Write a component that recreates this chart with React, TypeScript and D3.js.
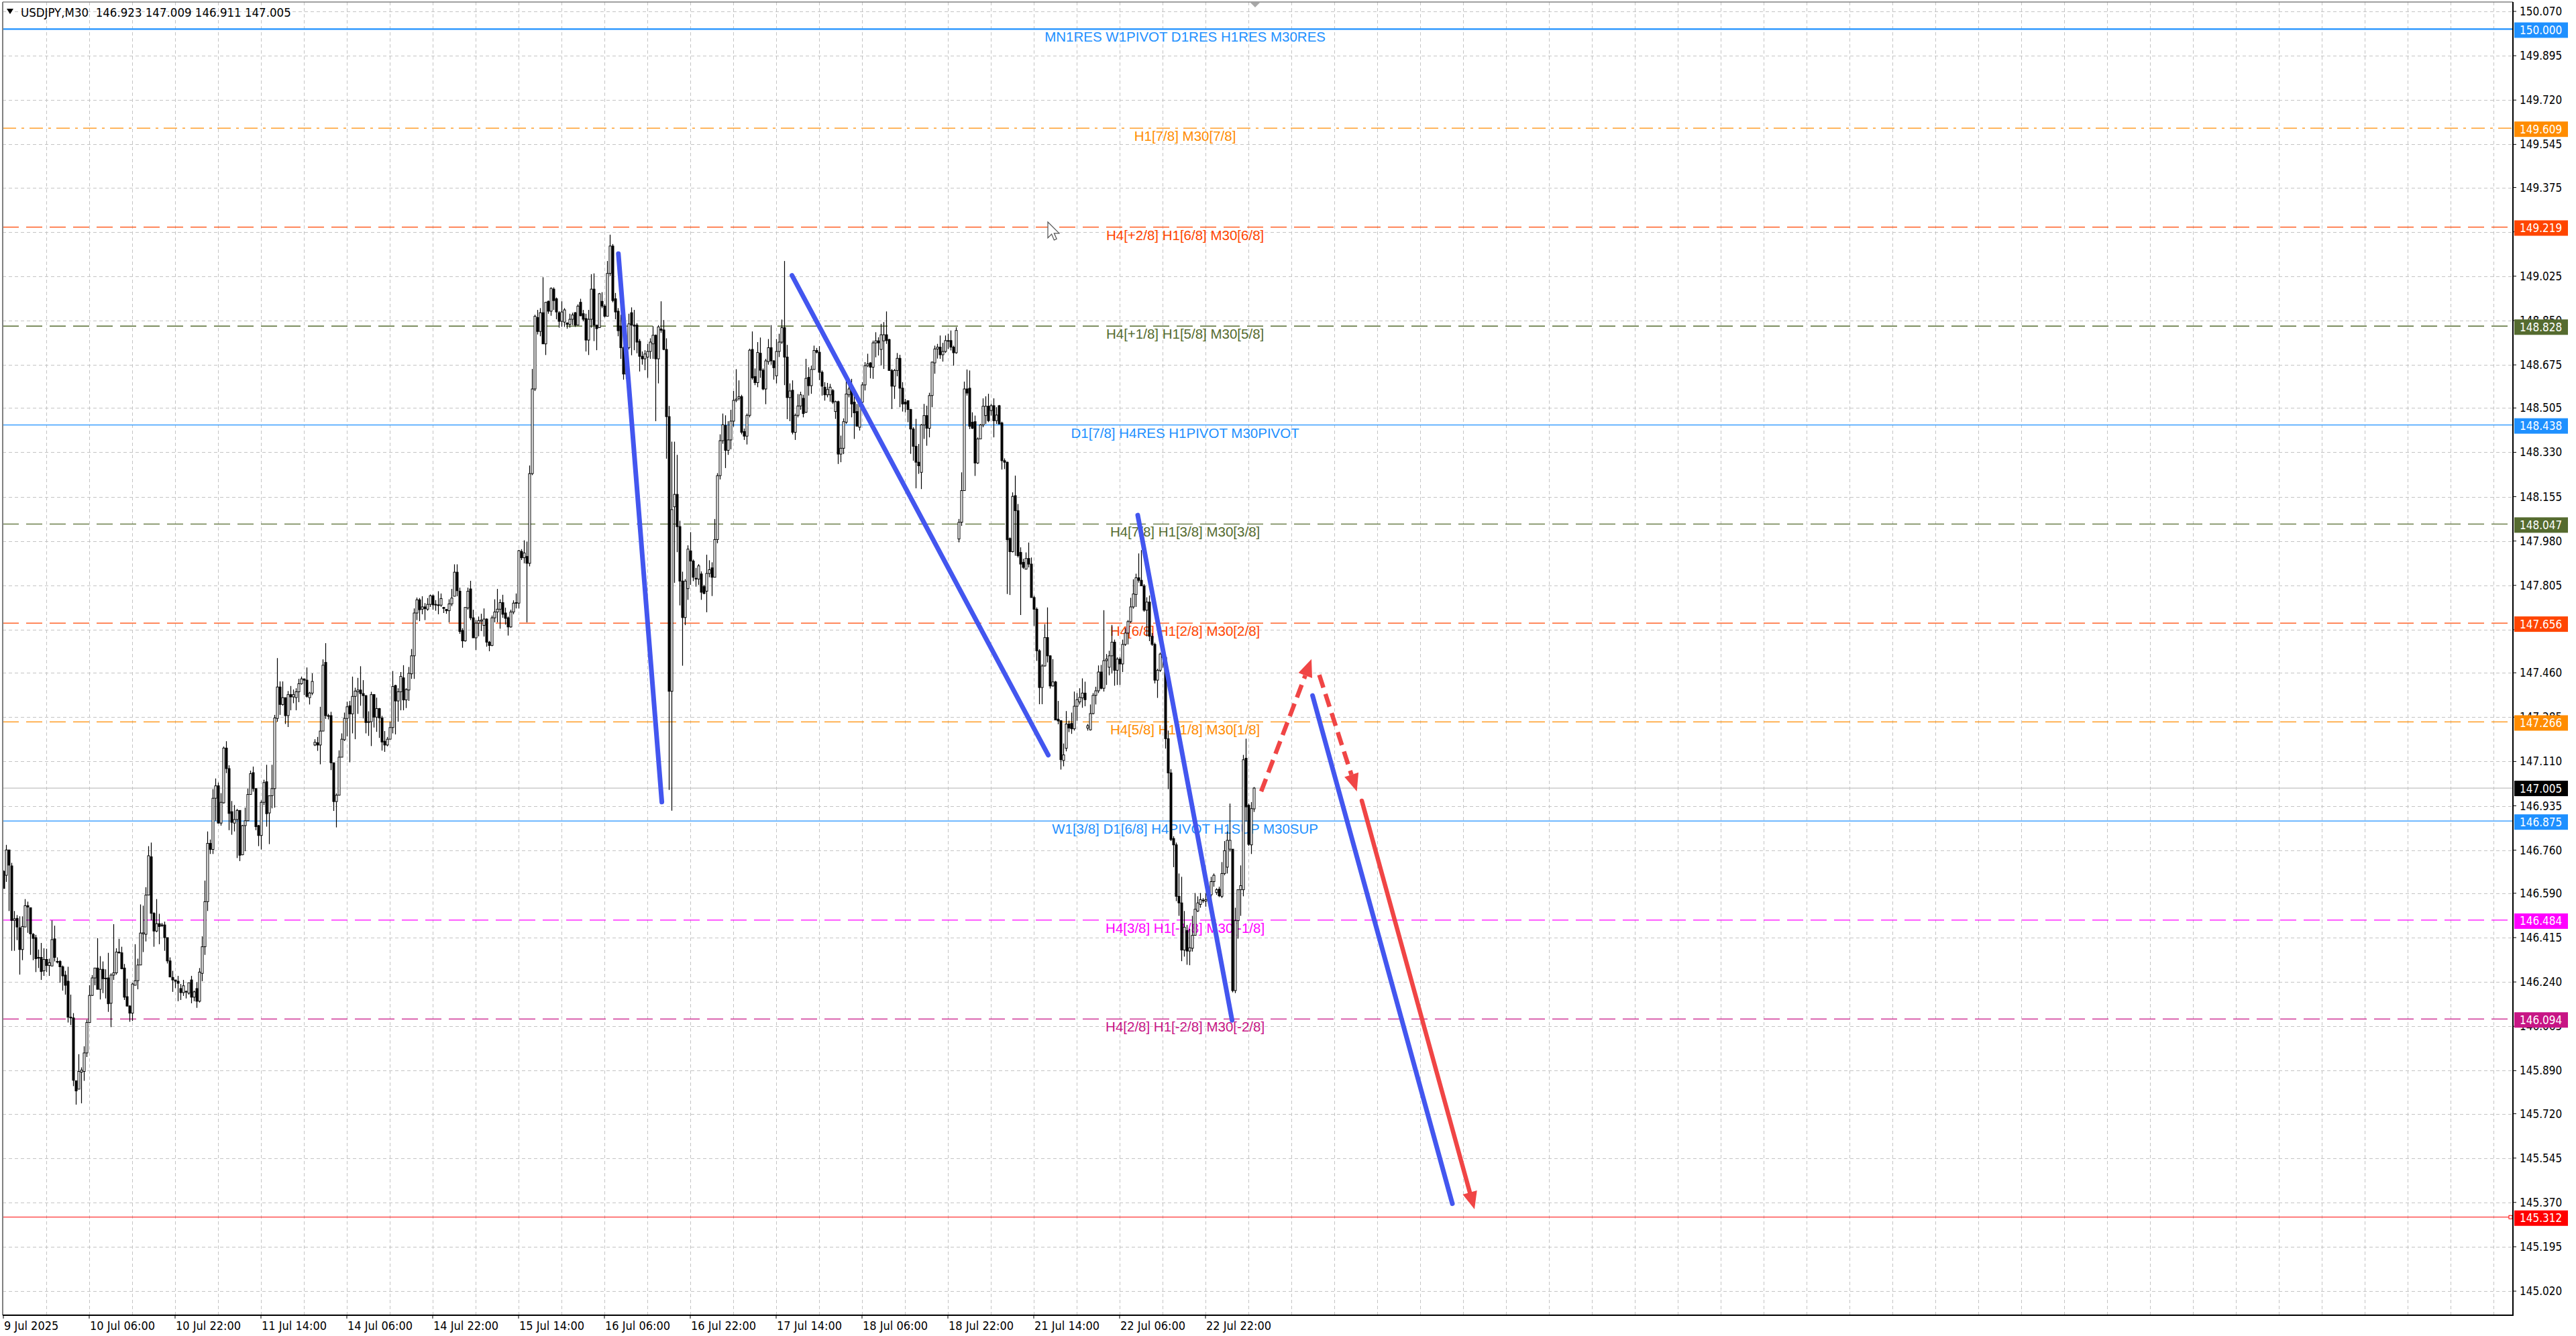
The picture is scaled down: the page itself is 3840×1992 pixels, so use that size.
import React from 'react';
import * as d3 from 'd3';

type Bar = [number, number, number, number]; // open, high, low, close

// M30 bars, 9 Jul 14:00 - 11 Jul 16:30
const barsA: Bar[] = [
  [146.677,146.680,146.609,146.609],[146.661,146.781,146.635,146.761],[146.761,146.761,146.520,146.701],[146.698,146.710,146.363,146.483],
  [146.483,146.520,146.363,146.489],[146.491,146.504,146.405,146.457],[146.454,146.499,146.269,146.368],[146.368,146.499,146.326,146.459],
  [146.457,146.567,146.457,146.541],[146.541,146.557,146.434,146.536],[146.533,146.533,146.347,146.430],[146.428,146.433,146.326,146.412],
  [146.415,146.426,146.279,146.332],[146.337,146.368,146.295,146.334],[146.337,146.394,146.248,146.281],[146.284,146.373,146.264,146.329],
  [146.329,146.371,146.279,146.305],[146.305,146.332,146.264,146.316],[146.303,146.483,146.303,146.407],[146.410,146.462,146.321,146.337],
  [146.321,146.337,146.313,146.321],[146.321,146.326,146.237,146.300],[146.300,146.305,146.206,146.264],[146.267,146.284,146.190,146.227],
  [146.243,146.300,146.080,146.101],[146.101,146.190,146.070,146.098],[146.098,146.117,145.829,145.852],[145.850,145.850,145.756,145.810],
  [145.817,145.955,145.817,145.887],[145.884,145.903,145.761,145.892],[145.887,145.986,145.850,145.960],[145.960,146.091,145.944,146.080],
  [146.080,146.227,146.080,146.187],[146.187,146.267,146.185,146.256],[146.256,146.295,146.227,146.295],[146.295,146.413,146.211,146.211],
  [146.211,146.342,146.171,146.290],[146.290,146.321,146.196,146.253],[146.253,146.290,146.175,146.255],[146.256,146.355,146.122,146.154],
  [146.156,146.274,146.062,146.267],[146.267,146.468,146.248,146.276],[146.276,146.373,146.269,146.358],[146.358,146.410,146.352,146.355],
  [146.355,146.379,146.290,146.292],[146.295,146.311,146.169,146.180],[146.182,146.253,146.143,146.145],[146.145,146.148,146.083,146.117],
  [146.117,146.237,146.086,146.232],[146.227,146.389,146.227,146.245],[146.245,146.332,146.211,146.307],[146.307,146.546,146.307,146.433],
  [146.430,146.541,146.358,146.434],[146.428,146.614,146.400,146.583],[146.583,146.776,146.583,146.738],[146.734,146.790,146.483,146.511],
  [146.511,146.515,146.379,146.441],[146.441,146.567,146.436,146.470],[146.470,146.509,146.389,146.459],[146.465,146.473,146.457,146.465],
  [146.465,146.478,146.363,146.415],[146.415,146.415,146.313,146.323],[146.323,146.337,146.258,146.260],[146.258,146.284,146.201,146.248],
  [146.248,146.248,146.216,146.243],[146.243,146.264,146.164,146.235],[146.214,146.232,146.169,146.198],[146.198,146.248,146.185,146.225],
  [146.203,146.206,146.175,146.201],[146.196,146.237,146.190,146.237],[146.248,146.264,146.156,146.180],[146.180,146.206,146.164,146.201],
  [146.214,146.239,146.138,146.164],[146.164,146.295,146.159,146.279],[146.274,146.420,146.243,146.379],[146.379,146.640,146.347,146.557],
  [146.557,146.834,146.520,146.787],[146.787,146.802,146.745,146.763],[146.763,147.001,146.745,146.965],[146.965,147.043,146.876,147.014],
  [147.014,147.027,146.865,146.867],[146.867,146.985,146.857,146.949],[146.947,147.169,146.944,147.163],[147.163,147.190,147.064,147.082],
  [147.082,147.095,146.839,146.905],[146.912,146.954,146.821,146.870],[146.867,146.938,146.834,146.881],[146.881,146.923,146.729,146.917],
  [146.917,146.917,146.717,146.740],[146.742,146.860,146.740,146.857],[146.857,146.928,146.756,146.876],[146.876,147.003,146.876,146.980],
  [146.980,147.074,146.980,147.062],[147.066,147.090,146.991,147.003],[147.003,147.003,146.839,146.853],[146.857,146.860,146.776,146.818],
  [146.818,146.957,146.763,146.949],[146.949,147.038,146.938,147.027],[147.030,147.097,146.853,146.904],[146.907,146.975,146.784,146.975],
  [146.975,147.097,146.925,147.003],[147.003,147.294,146.928,147.282],
];

// 11 Jul 17:00 - 15 Jul 15:30
const barsB: Bar[] = [
  [147.280,147.518,147.267,147.404],[147.404,147.426,147.294,147.335],[147.335,147.426,147.330,147.362],[147.362,147.362,147.258,147.291],
  [147.291,147.388,147.246,147.374],[147.374,147.408,147.312,147.365],[147.365,147.394,147.340,147.374],[147.362,147.399,147.312,147.385],
  [147.385,147.436,147.344,147.417],[147.417,147.445,147.413,147.436],[147.436,147.436,147.372,147.431],[147.431,147.481,147.362,147.367],
  [147.362,147.385,147.335,147.380],[147.380,147.458,147.372,147.426],[147.175,147.198,147.171,147.186],[147.184,147.207,147.152,147.175],
  [147.175,147.326,147.099,147.230],[147.230,147.513,147.230,147.490],[147.501,147.577,147.278,147.291],[147.291,147.298,147.276,147.291],
  [147.291,147.306,147.076,147.105],[147.105,147.105,146.915,146.952],[146.952,146.984,146.850,146.977],[146.977,147.154,146.977,147.127],
  [147.127,147.221,147.127,147.198],[147.196,147.303,147.191,147.280],[147.280,147.346,147.209,147.326],[147.330,147.349,147.107,147.298],
  [147.298,147.445,147.221,147.367],[147.367,147.401,147.198,147.388],[147.385,147.440,147.298,147.392],[147.392,147.486,147.330,147.378],
  [147.378,147.431,147.280,147.370],[147.370,147.372,147.221,147.264],[147.264,147.308,147.211,147.267],[147.267,147.385,147.171,147.374],
  [147.374,147.376,147.244,147.285],[147.285,147.362,147.227,147.319],[147.319,147.321,147.203,147.282],[147.282,147.290,147.153,147.187],
  [147.190,147.230,147.148,147.175],[147.175,147.207,147.170,147.198],[147.198,147.267,147.198,147.244],[147.244,147.467,147.221,147.406],
  [147.410,147.413,147.217,147.349],[147.349,147.399,147.267,147.385],[147.385,147.463,147.312,147.446],[147.440,147.490,147.312,147.353],
  [147.353,147.399,147.321,147.394],[147.392,147.483,147.349,147.458],[147.456,147.554,147.436,147.527],[147.527,147.714,147.436,147.696],
  [147.696,147.757,147.668,147.748],[147.748,147.755,147.664,147.709],[147.711,147.762,147.691,147.720],[147.720,147.735,147.668,147.713],
  [147.711,147.755,147.705,147.730],[147.730,147.769,147.720,147.764],[147.764,147.769,147.709,147.728],[147.728,147.747,147.705,147.730],
  [147.728,147.782,147.691,147.727],[147.727,147.773,147.720,147.753],[147.718,147.720,147.696,147.714],[147.710,147.712,147.693,147.705],
  [147.705,147.750,147.659,147.732],[147.732,147.791,147.723,147.755],[147.762,147.888,147.762,147.857],[147.857,147.888,147.762,147.784],
  [147.782,147.796,147.614,147.623],[147.627,147.636,147.559,147.586],[147.586,147.718,147.583,147.718],[147.716,147.796,147.709,147.782],
  [147.791,147.823,147.668,147.677],[147.677,147.709,147.598,147.598],[147.598,147.668,147.550,147.656],[147.656,147.682,147.604,147.666],
  [147.664,147.693,147.625,147.668],[147.647,147.714,147.603,147.672],[147.672,147.675,147.563,147.581],[147.581,147.586,147.545,147.568],
  [147.568,147.686,147.565,147.677],[147.677,147.750,147.659,147.700],[147.700,147.791,147.659,147.711],[147.711,147.750,147.634,147.737],
  [147.737,147.768,147.677,147.691],[147.696,147.717,147.650,147.675],[147.677,147.682,147.607,147.641],[147.641,147.709,147.638,147.700],
  [147.700,147.746,147.691,147.735],[147.735,147.773,147.714,147.737],[147.735,147.945,147.714,147.942],[147.939,147.948,147.905,147.914],
  [147.914,147.983,147.892,147.933],[147.919,147.978,147.659,147.892],
];

// 15 Jul 16:00 - 17 Jul 19:00
const barsC: Bar[] = [
  [147.892,148.278,147.880,148.246],[148.246,148.659,148.240,148.580],[148.580,148.873,148.572,148.867],[148.862,148.892,148.795,148.807],
  [148.807,148.899,148.788,148.881],[148.881,149.021,148.758,148.758],[148.758,148.922,148.714,148.922],[148.926,148.929,148.877,148.887],
  [148.887,148.981,148.869,148.977],[148.974,148.981,148.892,148.929],[148.936,148.941,148.855,148.884],[148.881,148.887,148.822,148.847],
  [148.847,148.926,148.825,148.884],[148.844,148.899,148.825,148.892],[148.840,148.843,148.818,148.835],[148.835,148.877,148.822,148.855],
  [148.855,148.881,148.832,148.872],[148.881,148.884,148.825,148.832],[148.832,148.914,148.832,148.907],[148.922,148.936,148.867,148.869],
  [148.877,148.892,148.847,148.855],[148.858,148.877,148.728,148.773],[148.773,148.892,148.714,148.855],[148.855,149.033,148.822,148.974],
  [148.974,149.036,148.769,148.832],[148.832,148.832,148.733,148.818],[148.822,148.959,148.822,148.956],[148.926,148.962,148.899,148.907],
  [148.907,148.914,148.862,148.867],[148.867,149.085,148.867,149.036],[149.036,149.189,149.026,149.144],[149.144,149.152,148.922,148.929],
  [148.936,148.959,148.855,148.884],[148.887,148.899,148.788,148.810],[148.828,148.873,148.699,148.743],[148.743,148.748,148.617,148.639],
  [148.639,148.770,148.620,148.743],[148.743,148.877,148.736,148.837],[148.881,148.902,148.713,148.832],[148.832,148.892,148.733,148.828],
  [148.832,148.840,148.721,148.765],[148.768,148.777,148.649,148.709],[148.709,148.728,148.676,148.699],[148.699,148.733,148.654,148.718],
  [148.706,148.758,148.624,148.728],[148.728,148.780,148.699,148.765],[148.758,148.828,148.699,148.792],[148.792,148.795,148.453,148.699],
  [148.699,148.832,148.602,148.825],[148.817,148.926,148.802,148.812],[148.813,148.852,148.733,148.736],[148.736,148.780,148.305,148.471],
  [148.471,148.513,146.998,147.387],[147.387,148.372,146.916,148.104],[148.115,148.372,147.815,148.164],[148.164,148.320,147.936,148.037],
  [148.037,148.060,147.726,147.822],[147.822,147.859,147.488,147.678],[147.678,147.830,147.648,147.822],[147.792,147.963,147.748,147.948],
  [147.941,148.015,147.807,147.901],[147.901,147.907,147.822,147.837],[147.833,147.874,147.800,147.830],[147.830,147.889,147.807,147.882],
  [147.850,147.860,147.748,147.778],[147.800,147.807,147.770,147.773],[147.782,147.926,147.699,147.852],[147.852,147.904,147.837,147.867],
  [147.874,147.896,147.763,147.837],[147.837,148.067,147.837,147.986],[147.986,148.248,147.971,148.238],[148.238,148.401,148.223,148.376],
  [148.376,148.483,148.364,148.439],[148.436,148.476,148.268,148.338],[148.338,148.453,148.320,148.379],[148.379,148.498,148.342,148.453],
  [148.453,148.572,148.431,148.535],[148.535,148.658,148.528,148.540],[148.543,148.614,148.535,148.550],[148.550,148.557,148.401,148.409],
  [148.412,148.424,148.379,148.394],[148.394,148.483,148.361,148.476],[148.476,148.739,148.468,148.733],[148.736,148.807,148.617,148.624],
  [148.629,148.661,148.595,148.605],[148.605,148.765,148.587,148.724],[148.721,148.783,148.624,148.654],[148.654,148.661,148.575,148.580],
  [148.580,148.699,148.520,148.691],[148.688,148.777,148.676,148.743],[148.743,148.832,148.676,148.691],[148.691,148.694,148.617,148.664],
  [148.632,148.777,148.602,148.728],[148.728,148.798,148.706,148.765],[148.765,148.854,148.758,148.822],[148.822,149.085,148.595,148.706],
  [148.706,148.754,148.461,148.546],[148.546,148.602,148.453,148.572],[148.575,148.614,148.401,148.409],[148.409,148.483,148.379,148.476],
  [148.476,148.560,148.468,148.513],[148.513,148.569,148.498,148.557],[148.543,148.557,148.468,148.483],
];

// 17 Jul 19:30 - 21 Jul 18:30
const barsD: Bar[] = [
  [148.488,148.699,148.486,148.622],[148.626,148.666,148.554,148.593],[148.593,148.672,148.561,148.657],[148.657,148.751,148.657,148.732],
  [148.732,148.742,148.720,148.725],[148.725,148.749,148.615,148.646],[148.646,148.653,148.554,148.591],[148.587,148.607,148.534,148.557],
  [148.557,148.604,148.547,148.578],[148.557,148.600,148.530,148.587],[148.574,148.580,148.521,148.528],[148.491,148.534,148.462,148.530],
  [148.530,148.534,148.284,148.323],[148.323,148.396,148.291,148.346],[148.346,148.464,148.323,148.451],[148.449,148.613,148.442,148.560],
  [148.557,148.620,148.547,148.580],[148.591,148.620,148.468,148.521],[148.528,148.554,148.383,148.486],[148.491,148.521,148.432,148.433],
  [148.429,148.541,148.416,148.528],[148.528,148.607,148.491,148.596],[148.596,148.686,148.574,148.672],[148.672,148.719,148.666,148.679],
  [148.683,148.686,148.622,148.666],[148.666,148.771,148.620,148.762],[148.762,148.804,148.705,148.770],[148.770,148.784,148.712,148.762],
  [148.736,148.837,148.673,148.794],[148.770,148.844,148.659,148.794],[148.794,148.886,148.758,148.771],[148.775,148.778,148.653,148.653],
  [148.653,148.659,148.501,148.591],[148.591,148.659,148.541,148.653],[148.653,148.722,148.630,148.701],[148.701,148.715,148.508,148.583],
  [148.583,148.607,148.491,148.521],[148.528,148.541,148.488,148.521],[148.534,148.534,148.449,148.499],[148.499,148.501,148.324,148.422],
  [148.422,148.429,148.297,148.354],[148.354,148.462,148.188,148.291],[148.291,148.363,148.245,148.277],[148.251,148.442,148.185,148.438],
  [148.438,148.521,148.383,148.475],[148.475,148.514,148.356,148.425],[148.425,148.565,148.389,148.554],[148.554,148.688,148.508,148.686],
  [148.683,148.751,148.640,148.738],[148.738,148.758,148.700,148.745],[148.745,148.791,148.699,148.715],[148.715,148.762,148.688,148.728],
  [148.728,148.791,148.722,148.771],[148.771,148.798,148.738,148.771],[148.771,148.811,148.732,148.745],[148.745,148.751,148.672,148.723],
  [148.723,148.824,148.719,148.811],[147.988,148.067,147.975,148.054],[148.054,148.251,148.040,148.179],[148.179,148.609,148.179,148.580],
  [148.580,148.657,148.554,148.564],[148.583,148.653,148.422,148.433],[148.449,148.488,148.422,148.425],[148.451,148.475,148.237,148.288],
  [148.288,148.389,148.284,148.383],[148.383,148.442,148.383,148.438],[148.438,148.543,148.429,148.512],[148.475,148.551,148.442,148.512],
  [148.512,148.561,148.449,148.455],[148.495,148.521,148.475,148.514],[148.514,148.543,148.389,148.455],[148.455,148.508,148.442,148.477],
  [148.514,148.517,148.442,148.442],[148.446,148.451,148.262,148.297],[148.297,148.306,148.264,148.291],[148.291,148.293,147.771,147.985],
  [147.990,147.994,147.767,147.938],[147.938,148.172,147.935,148.156],[148.159,148.238,147.922,148.100],[148.100,148.126,147.915,147.922],
  [147.935,147.955,147.688,147.889],[147.896,147.910,147.870,147.876],[147.869,147.935,147.869,147.911],[147.911,147.974,147.876,147.889],
  [147.889,147.915,147.757,147.757],[147.757,147.764,147.645,147.711],[147.711,147.718,147.507,147.547],[147.547,147.553,147.336,147.402],
  [147.402,147.494,147.336,147.487],[147.487,147.652,147.485,147.599],[147.599,147.718,147.501,147.527],[147.527,147.529,147.398,147.408],
  [147.408,147.514,147.406,147.424],[147.424,147.428,147.274,147.274],[147.277,147.349,147.257,147.270],
];

// 21 Jul 19:00 - 23 Jul 07:00
const barsE: Bar[] = [
  [147.271,147.273,147.078,147.117],[147.114,147.181,147.091,147.136],[147.162,147.309,147.150,147.258],[147.258,147.271,147.226,147.242],
  [147.260,147.303,147.219,147.239],[147.239,147.386,147.232,147.328],[147.328,147.380,147.271,147.354],[147.345,147.399,147.335,147.363],
  [147.361,147.438,147.322,147.380],[147.380,147.425,147.328,147.354],[147.242,147.258,147.232,147.251],[147.235,147.335,147.232,147.299],
  [147.299,147.380,147.296,147.371],[147.371,147.405,147.335,147.389],[147.389,147.489,147.380,147.463],[147.463,147.491,147.395,147.399],
  [147.399,147.707,147.386,147.508],[147.508,147.534,147.412,147.514],[147.482,147.547,147.450,147.527],[147.527,147.649,147.457,147.581],
  [147.581,147.591,147.409,147.470],[147.470,147.521,147.412,147.514],[147.514,147.522,147.412,147.495],[147.495,147.591,147.463,147.572],
  [147.572,147.636,147.566,147.617],[147.617,147.668,147.572,147.662],[147.662,147.756,147.656,147.720],[147.720,147.829,147.713,147.771],
  [147.769,147.851,147.720,147.835],[147.835,147.931,147.816,147.825],[147.825,147.944,147.803,147.803],[147.803,147.810,147.701,147.707],
  [147.707,147.758,147.604,147.739],[147.739,147.765,147.585,147.604],[147.604,147.617,147.566,147.572],[147.572,147.579,147.418,147.431],
  [147.431,147.476,147.361,147.470],[147.470,147.540,147.463,147.534],[147.534,147.560,147.480,147.520],[147.521,147.527,147.161,147.200],
  [147.200,147.232,147.001,147.065],[147.065,147.080,146.796,146.802],[146.806,146.815,146.693,146.781],[146.781,146.790,146.559,146.578],
  [146.578,146.668,146.501,146.552],[146.552,146.655,146.322,146.366],[146.366,146.520,146.340,146.456],[146.443,146.465,146.308,146.362],
  [146.362,146.450,146.306,146.375],[146.373,146.501,146.360,146.424],[146.424,146.591,146.424,146.527],[146.520,146.578,146.516,146.552],
  [146.546,146.591,146.533,146.565],[146.563,146.571,146.552,146.561],[146.559,146.591,146.537,146.565],[146.565,146.620,146.550,146.597],
  [146.584,146.655,146.565,146.636],[146.636,146.668,146.616,146.661],[146.593,146.610,146.584,146.604],[146.606,146.616,146.575,146.580],
  [146.578,146.713,146.571,146.668],[146.668,146.796,146.661,146.758],[146.693,146.834,146.668,146.799],[146.764,146.944,146.755,146.799],
  [146.764,146.764,146.199,146.206],[146.206,146.533,146.196,146.482],[146.482,146.604,146.411,146.604],[146.604,146.700,146.501,146.620],
  [146.604,147.136,146.578,147.117],[147.123,147.200,146.873,146.931],[146.937,146.944,146.777,146.783],[146.781,146.950,146.745,146.924],
  [146.923,147.009,146.911,147.005],
];

const priceTicks = [
  150.070, 149.895, 149.720, 149.545, 149.375, 149.200, 149.025, 148.850, 148.675, 148.505,
  148.330, 148.155, 147.980, 147.805, 147.630, 147.460, 147.285, 147.110, 146.935, 146.760,
  146.590, 146.415, 146.240, 146.065, 145.890, 145.720, 145.545, 145.370, 145.195, 145.020,
];
// tick labels that sit completely under a level box in the picture
const coveredTickLabels = [149.200, 147.630];

const timeTickBars = [0, 32, 64, 96, 128, 160, 192, 224, 256, 288, 320, 352, 384, 416, 448];
const timeTickLabels = [
  '9 Jul 2025', '10 Jul 06:00', '10 Jul 22:00', '11 Jul 14:00', '14 Jul 06:00', '14 Jul 22:00',
  '15 Jul 14:00', '16 Jul 06:00', '16 Jul 22:00', '17 Jul 14:00', '18 Jul 06:00', '18 Jul 22:00',
  '21 Jul 14:00', '22 Jul 06:00', '22 Jul 22:00',
];

const levelPrices = [150.000, 149.609, 149.219, 148.828, 148.438, 148.047, 147.656, 147.266, 146.875, 146.484, 146.094, 145.312];
const levelTexts = [
  'MN1RES W1PIVOT D1RES H1RES M30RES',
  'H1[7/8] M30[7/8]',
  'H4[+2/8] H1[6/8] M30[6/8]',
  'H4[+1/8] H1[5/8] M30[5/8]',
  'D1[7/8] H4RES H1PIVOT M30PIVOT',
  'H4[7/8] H1[3/8] M30[3/8]',
  'H4[6/8] H1[2/8] M30[2/8]',
  'H4[5/8] H1[1/8] M30[1/8]',
  'W1[3/8] D1[6/8] H4PIVOT H1SUP M30SUP',
  'H4[3/8] H1[-1/8] M30[-1/8]',
  'H4[2/8] H1[-2/8] M30[-2/8]',
  '',
];

const title = 'USDJPY,M30  146.923 147.009 146.911 147.005';
const bidPrice = 147.005;

// trend lines: [bar1, price1, bar2, price2]
const blueLines = [
  [229.2, 149.114, 245.4, 146.95],
  [293.9, 149.028, 389.4, 147.135],
  [422.75, 148.082, 457.9, 146.089],
  [487.9, 147.37, 540.0, 145.365],
];
const redDashedArrows = [
  [468.75, 146.992, 487.5, 147.514],
  [490.4, 147.452, 504.4, 146.992],
];
const redArrows = [[506.25, 146.955, 548.25, 145.343]];

// styles
const DODGER = '#1e90ff';
const ORANGE = '#ff8c00';
const ORRED = '#ff4500';
const OLIVE = '#556b2f';
const levelStyles = [
  { color: DODGER, dash: '', width: 2.2 },
  { color: ORANGE, dash: '20,8,4,8', width: 1.3 },
  { color: ORRED, dash: '24,11', width: 1.3 },
  { color: OLIVE, dash: '24,11', width: 1.3 },
  { color: DODGER, dash: '', width: 1.3 },
  { color: OLIVE, dash: '24,11', width: 1.3 },
  { color: ORRED, dash: '24,11', width: 1.3 },
  { color: ORANGE, dash: '24,11', width: 1.3 },
  { color: DODGER, dash: '', width: 1.3 },
  { color: '#ff00ff', dash: '24,11', width: 1.3 },
  { color: '#c71585', dash: '24,11', width: 1.3 },
  { color: '#ff0000', dash: '', width: 1.2 },
];

const W = 3840;
const H = 1992;
const L = 4;
const T = 3;
const R = 3746;
const B = 1961;
const LABEL_BAR = 440.4;
const BLUE = '#4356ef';
const RED = '#f04545';

const App: React.FC = () => {
  const bars = [...barsA, ...barsB, ...barsC, ...barsD, ...barsE];
  const x = d3.scaleLinear().domain([0, 935]).range([5, 5 + 4 * 935]);
  const y = d3.scaleLinear().domain([144.925, 150.107]).range([B, T]);

  const vGrid = d3.range(16, 935, 16).map(i => x(i)).filter(v => v < R);

  const arrowHead = (x1: number, y1: number, x2: number, y2: number, len: number, half: number) => {
    const dx = x2 - x1;
    const dy = y2 - y1;
    const d = Math.hypot(dx, dy);
    const ux = dx / d;
    const uy = dy / d;
    const bx = x2 - ux * len;
    const by = y2 - uy * len;
    const pts = [
      [x2, y2],
      [bx - uy * half, by + ux * half],
      [bx + uy * half, by - ux * half],
    ];
    return { pts: pts.map(p => p.join(',')).join(' '), bx, by };
  };

  const sansC = "'DejaVu Sans Condensed', 'DejaVu Sans', sans-serif";
  const arial = "'Liberation Sans', Arial, sans-serif";

  return (
    <svg width={W} height={H} style={{ position: 'fixed', left: 0, top: 0, background: '#fff' }}>
      <rect x={0} y={0} width={W} height={H} fill="#fff" />

      {/* grid */}
      <g stroke="#c4c4c4" strokeWidth={1} strokeDasharray="5,4">
        {priceTicks.map(p => (
          <line key={'h' + p} x1={L} x2={R} y1={Math.round(y(p)) + 0.5} y2={Math.round(y(p)) + 0.5} />
        ))}
        {vGrid.map(v => (
          <line key={'v' + v} x1={v + 0.5} x2={v + 0.5} y1={T} y2={B} />
        ))}
      </g>

      {/* level lines */}
      {levelPrices.map((p, i) => (
        <line key={'lv' + i} x1={L} x2={R} y1={y(p)} y2={y(p)}
          stroke={levelStyles[i].color} strokeWidth={levelStyles[i].width}
          strokeDasharray={levelStyles[i].dash || undefined} />
      ))}
      <line x1={L} x2={R} y1={y(bidPrice)} y2={y(bidPrice)} stroke="#c0c0c0" strokeWidth={1.3} />
      <rect x={R - 6} y={y(145.312) - 2.5} width={5} height={5} fill="#fff" stroke="#ff0000" strokeWidth={1} />

      {/* level texts */}
      <g fontFamily={arial} fontSize={20.5} textAnchor="middle">
        {levelTexts.map((t, i) => (
          <text key={'lt' + i} x={x(LABEL_BAR)} y={y(levelPrices[i]) + 19} fill={levelStyles[i].color}>{t}</text>
        ))}
      </g>

      {/* candles */}
      <g>
        {bars.map((b, i) => {
          const [o, h, l, c] = b;
          const cx = Math.round(x(i)) + 0.5;
          const top = y(Math.max(o, c));
          const bot = y(Math.min(o, c));
          const bull = c >= o;
          return (
            <g key={'c' + i}>
              <line x1={cx} x2={cx} y1={y(h)} y2={y(l)} stroke="#000" strokeWidth={1.2} />
              <rect x={cx - 1.5} y={top} width={3} height={Math.max(bot - top, 1)}
                fill={bull ? '#fff' : '#000'} stroke="#000" strokeWidth={1} />
            </g>
          );
        })}
      </g>

      {/* analysis lines */}
      <g strokeLinecap="round">
        {blueLines.map((d, i) => (
          <line key={'bl' + i} x1={x(d[0])} y1={y(d[1])} x2={x(d[2])} y2={y(d[3])} stroke={BLUE} strokeWidth={7} />
        ))}
      </g>
      {redDashedArrows.map((d, i) => {
        const x1 = x(d[0]), y1 = y(d[1]), x2 = x(d[2]), y2 = y(d[3]);
        const a = arrowHead(x1, y1, x2, y2, 26, 11);
        return (
          <g key={'rd' + i}>
            <line x1={x1} y1={y1} x2={a.bx} y2={a.by} stroke={RED} strokeWidth={6.5} strokeDasharray="20,10" />
            <polygon points={a.pts} fill={RED} />
          </g>
        );
      })}
      {redArrows.map((d, i) => {
        const x1 = x(d[0]), y1 = y(d[1]), x2 = x(d[2]), y2 = y(d[3]);
        const a = arrowHead(x1, y1, x2, y2, 26, 11);
        return (
          <g key={'ra' + i}>
            <line x1={x1} y1={y1} x2={a.bx} y2={a.by} stroke={RED} strokeWidth={6.5} strokeLinecap="round" />
            <polygon points={a.pts} fill={RED} />
          </g>
        );
      })}

      {/* chart shift marker */}
      <polygon points={`${x(466.5) - 7},${T + 1} ${x(466.5) + 7},${T + 1} ${x(466.5)},${T + 8}`} fill="#a8a8a8" />

      {/* mouse cursor */}
      <g transform="translate(1562,331) scale(1.25)">
        <path d="M0,0 L0,19 L4.5,14.5 L7.5,21.5 L10.5,20.2 L7.5,13.5 L13.5,13.5 Z" fill="#fff" stroke="#555" strokeWidth={1} />
      </g>

      {/* frame */}
      <line x1={L} x2={L} y1={T} y2={B} stroke="#808080" strokeWidth={2} />
      <line x1={L} x2={R} y1={T} y2={T} stroke="#808080" strokeWidth={1.5} />
      <line x1={R} x2={R} y1={T} y2={B + 1} stroke="#000" strokeWidth={2} />
      <line x1={L} x2={R} y1={B} y2={B} stroke="#000" strokeWidth={2} />

      {/* price axis */}
      <g fontFamily={sansC} fontSize={17} fill="#000">
        {priceTicks.map(p => (
          <g key={'pt' + p}>
            <line x1={R} x2={R + 5} y1={y(p)} y2={y(p)} stroke="#000" strokeWidth={1} />
            {!coveredTickLabels.includes(p) && (
              <text x={3756} y={y(p)} dominantBaseline="central">{p.toFixed(3)}</text>
            )}
          </g>
        ))}
      </g>
      <g fontFamily={sansC} fontSize={17}>
        {levelPrices.map((p, i) => (
          <g key={'pl' + i}>
            <rect x={R + 2} y={y(p) - 10} width={80} height={23} fill={levelStyles[i].color} />
            <text x={3756} y={y(p) + 1.5} dominantBaseline="central" fill="#fff">{p.toFixed(3)}</text>
          </g>
        ))}
        <rect x={R + 2} y={y(bidPrice) - 11} width={80} height={23} fill="#000" />
        <text x={3756} y={y(bidPrice) + 0.5} dominantBaseline="central" fill="#fff">{bidPrice.toFixed(3)}</text>
      </g>

      {/* time axis */}
      <g fontFamily={sansC} fontSize={18} fill="#000">
        {timeTickBars.map((bi, i) => (
          <g key={'tt' + bi}>
            <line x1={x(bi)} x2={x(bi)} y1={B} y2={B + 5} stroke="#000" strokeWidth={1} />
            <text x={x(bi) + 1} y={1983}>{timeTickLabels[i]}</text>
          </g>
        ))}
      </g>

      {/* title */}
      <polygon points="10,13 20,13 15,21" fill="#000" />
      <text x={31} y={25} fontFamily={sansC} fontSize={18.5} fill="#000" style={{ whiteSpace: 'pre' }}>{title}</text>
    </svg>
  );
};

export default App;
